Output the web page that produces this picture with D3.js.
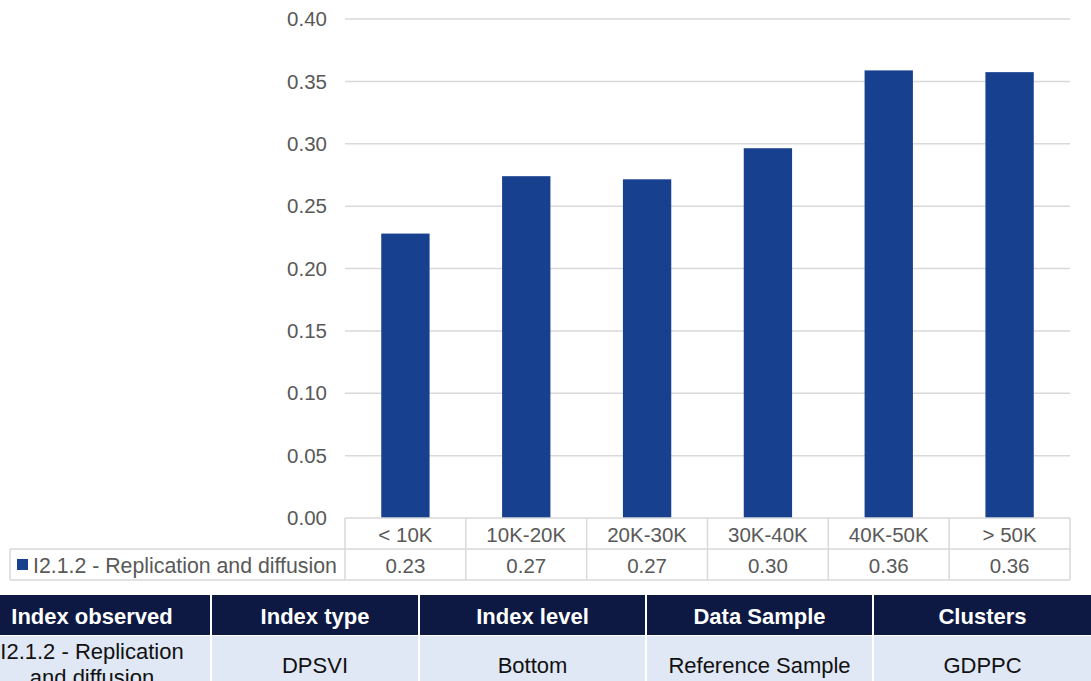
<!DOCTYPE html>
<html><head><meta charset="utf-8">
<script src="https://cdn.jsdelivr.net/npm/d3@7"></script>
<style>body{margin:0;background:#fff;} svg{display:block;font-family:"Liberation Sans",Arial,sans-serif;}</style>
</head><body>
<svg id="c" width="1091" height="681"></svg>
<script>
const categories = ["< 10K","10K-20K","20K-30K","30K-40K","40K-50K","> 50K"];
const values = [0.228, 0.274, 0.2715, 0.2964, 0.3588, 0.3574];
const valueLabels = ["0.23","0.27","0.27","0.30","0.36","0.36"];
const seriesName = "I2.1.2 - Replication and diffusion";
const yTicks = [0,0.05,0.10,0.15,0.20,0.25,0.30,0.35,0.40];
const infoHeaders = ["Index observed","Index type","Index level","Data Sample","Clusters"];
const infoValues = [["I2.1.2 - Replication","and diffusion"],["DPSVI"],["Bottom"],["Reference Sample"],["GDPPC"]];
const infoCols = [-26,211,419,646,873,1091];

const svg = d3.select("#c");
const L=345,R=1070,T=19,B=518;
const x = d3.scaleBand().domain(categories).range([L,R]).paddingInner(0.6).paddingOuter(0.3);
const xb = d3.scaleBand().domain(categories).range([L,R]);
const y = d3.scaleLinear().domain([0,0.4]).range([B,T]);
const grey="#d9d9d9", txt="#595959", barC="#17408f", fs=20.5;

// grid
svg.append("g").selectAll("line").data(yTicks.slice(1)).join("line")
  .attr("x1",L).attr("x2",R).attr("y1",d=>y(d)).attr("y2",d=>y(d))
  .attr("stroke",grey).attr("stroke-width",1.5);
svg.append("g").selectAll("text").data(yTicks).join("text")
  .attr("x",327).attr("y",d=>y(d)).attr("dy","0.35em").attr("text-anchor","end")
  .attr("font-size",fs).attr("fill",txt).text(d=>d.toFixed(2));
// bars
svg.append("g").selectAll("rect").data(values).join("rect")
  .attr("x",(d,i)=>x(categories[i])).attr("width",x.bandwidth())
  .attr("y",d=>y(d)).attr("height",d=>B-y(d)).attr("fill",barC);

// data table
const r1=549, r2=580;
const tg = svg.append("g").attr("fill","none").attr("stroke",grey).attr("stroke-width",1.5);
tg.append("line").attr("x1",L).attr("x2",R).attr("y1",B).attr("y2",B);
tg.append("line").attr("x1",10).attr("x2",R).attr("y1",r1).attr("y2",r1);
tg.append("line").attr("x1",10).attr("x2",R).attr("y1",r2).attr("y2",r2);
tg.append("line").attr("x1",10).attr("x2",10).attr("y1",r1).attr("y2",r2);
tg.selectAll(".v").data(categories.concat(["end"])).join("line")
  .attr("x1",(d,i)=>L+i*xb.bandwidth()).attr("x2",(d,i)=>L+i*xb.bandwidth())
  .attr("y1",B).attr("y2",r2);
svg.append("g").selectAll("text").data(categories).join("text")
  .attr("x",d=>xb(d)+xb.bandwidth()/2).attr("y",(B+r1)/2+1).attr("dy","0.35em")
  .attr("text-anchor","middle").attr("font-size",fs).attr("fill",txt).text(d=>d);
svg.append("g").selectAll("text").data(valueLabels).join("text")
  .attr("x",(d,i)=>xb(categories[i])+xb.bandwidth()/2).attr("y",(r1+r2)/2+1).attr("dy","0.35em")
  .attr("text-anchor","middle").attr("font-size",fs).attr("fill",txt).text(d=>d);
svg.append("rect").attr("x",17).attr("y",559).attr("width",11).attr("height",11).attr("fill",barC);
svg.append("text").attr("x",33).attr("y",(r1+r2)/2+1).attr("dy","0.35em")
  .attr("font-size",21.3).attr("fill",txt).text(seriesName);

// info table
const hT=595,hB=635;
const ig = svg.append("g");
infoHeaders.forEach((h,i)=>{
  const x0 = infoCols[i] + (i>0?1:0), x1 = infoCols[i+1] - (i<4?1:0);
  ig.append("rect").attr("x",x0).attr("y",hT).attr("width",x1-x0).attr("height",hB-hT).attr("fill","#0d1943");
  ig.append("rect").attr("x",x0).attr("y",hB+1).attr("width",x1-x0).attr("height",681-hB).attr("fill","#e0e7f5");
  ig.append("text").attr("x",(x0+x1)/2).attr("y",(hT+hB)/2+1).attr("dy","0.35em")
    .attr("text-anchor","middle").attr("font-size",22).attr("font-weight","bold").attr("fill","#fff").text(h);
  const lines = infoValues[i];
  lines.forEach((ln,j)=>{
    const cy = lines.length===1 ? 665 : 651 + j*26;
    ig.append("text").attr("x",(x0+x1)/2).attr("y",cy).attr("dy","0.35em")
      .attr("text-anchor","middle").attr("font-size",22).attr("fill","#111").text(ln);
  });
});
</script>
</body></html>
